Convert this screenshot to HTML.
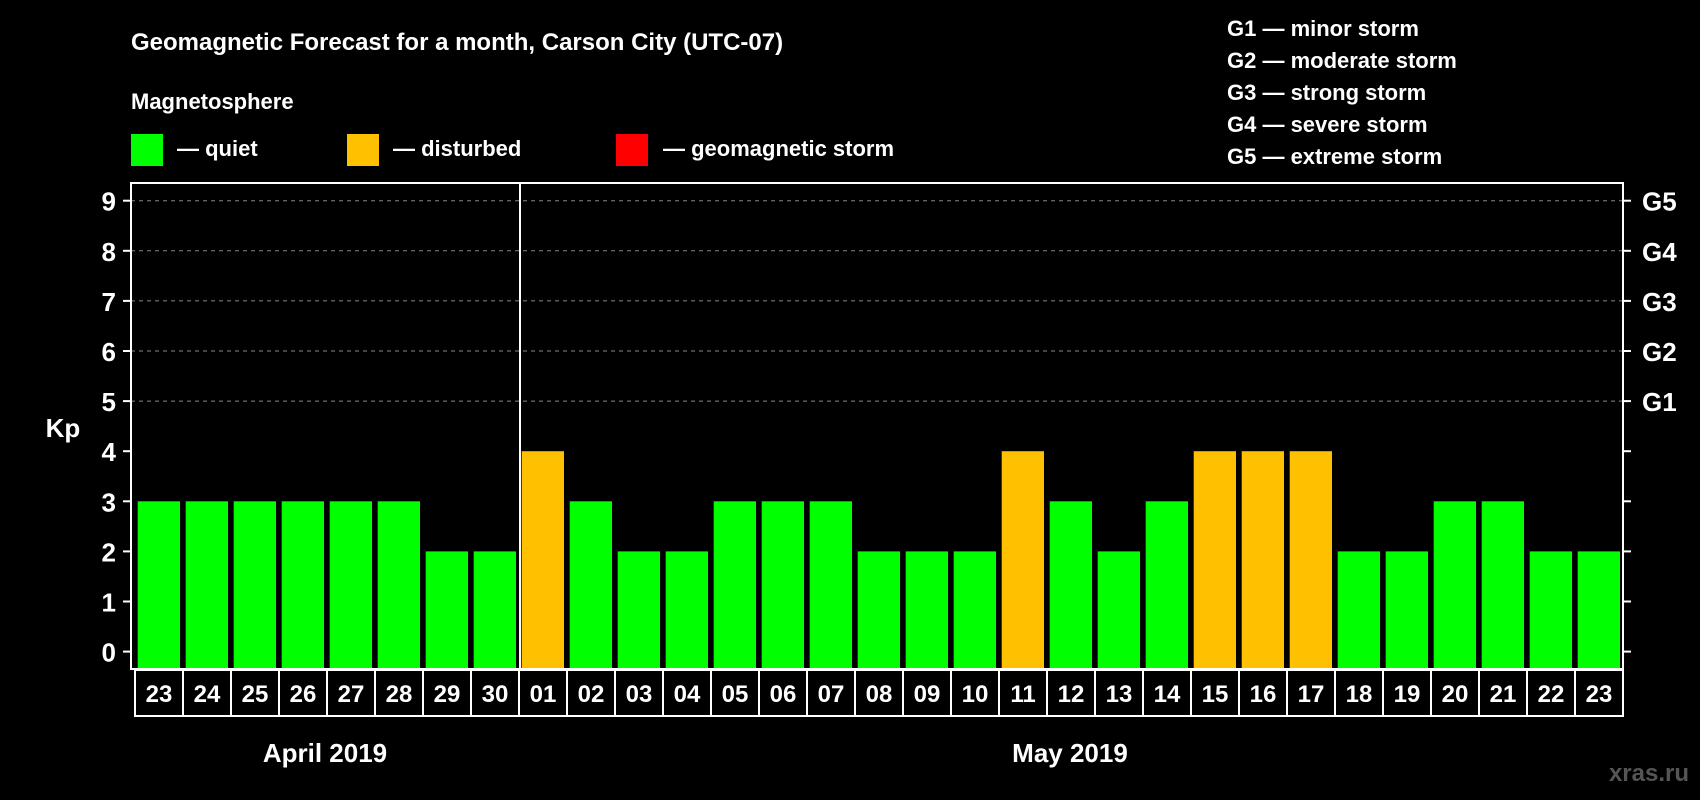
<!DOCTYPE html>
<html><head><meta charset="utf-8"><style>
body{margin:0;background:#000;}
svg{display:block;font-family:"Liberation Sans",sans-serif;font-weight:bold;}
</style></head><body>
<svg id="chart" width="1700" height="800">
<rect width="1700" height="800" fill="#000"/>
<text x="131" y="50" fill="#fff" font-size="24">Geomagnetic Forecast for a month, Carson City (UTC-07)</text>
<text x="131" y="109" fill="#fff" font-size="22">Magnetosphere</text>
<g><rect x="131" y="134" width="32" height="32" fill="#00ff00"/><text x="177" y="156" fill="#fff" font-size="22">— quiet</text></g>
<g><rect x="347" y="134" width="32" height="32" fill="#ffc000"/><text x="393" y="156" fill="#fff" font-size="22">— disturbed</text></g>
<g><rect x="616" y="134" width="32" height="32" fill="#ff0000"/><text x="663" y="156" fill="#fff" font-size="22">— geomagnetic storm</text></g>
<g fill="#fff" font-size="22">
<text x="1227" y="36">G1 — minor storm</text>
<text x="1227" y="68">G2 — moderate storm</text>
<text x="1227" y="100">G3 — strong storm</text>
<text x="1227" y="132">G4 — severe storm</text>
<text x="1227" y="164">G5 — extreme storm</text>
</g>
<text x="63" y="437" fill="#fff" font-size="26" text-anchor="middle">Kp</text>
<g id="grid"></g><g id="bars"></g><g id="axes"></g><g id="dates"></g>
<text x="325" y="762" fill="#fff" font-size="26" text-anchor="middle">April 2019</text>
<text x="1070" y="762" fill="#fff" font-size="26" text-anchor="middle">May 2019</text>
<text x="1689" y="781" fill="#555" font-size="24" text-anchor="end">xras.ru</text>
</svg>
<script>
const days=["23","24","25","26","27","28","29","30","01","02","03","04","05","06","07","08","09","10","11","12","13","14","15","16","17","18","19","20","21","22","23"];
const kp=[3,3,3,3,3,3,2,2,4,3,2,2,3,3,3,2,2,2,4,3,2,3,4,4,4,2,2,3,3,2,2];
const yTicks=[0,1,2,3,4,5,6,7,8,9];
const gLabels=["G1","G2","G3","G4","G5"];
const NS="http://www.w3.org/2000/svg";
const L=131,R=1623,T=183,B=669,X0=135,P=48;
const y=v=>651.6-v*50.1;
const x=i=>X0+i*P;
function mk(tag,attrs,parent,txt){const e=document.createElementNS(NS,tag);for(const k in attrs)e.setAttribute(k,attrs[k]);if(txt!==undefined)e.textContent=txt;document.getElementById(parent).appendChild(e);return e;}
yTicks.forEach(v=>{
 if(v>=5){const g=mk('line',{x1:L,x2:R,y1:y(v),y2:y(v),stroke:'#888','stroke-dasharray':'4 4','stroke-width':1},'grid');
 
 }
 const t1=mk('line',{x1:L-8,x2:L,y1:y(v),y2:y(v),stroke:'#fff','stroke-width':2},'axes');
 
 
 const t2=mk('line',{x1:R,x2:R+8,y1:y(v),y2:y(v),stroke:'#fff','stroke-width':2},'axes');
 
 
 const lb=mk('text',{x:116,y:y(v)+10,fill:'#fff','font-size':26,'text-anchor':'end'},'axes',String(v));
 
 
});
gLabels.forEach((g,i)=>{
 const lb=mk('text',{x:1642,y:y(5+i)+10,fill:'#fff','font-size':26},'axes',g);
 
 
});
kp.forEach((v,i)=>{
 const b=mk('rect',{x:x(i)+2.7,y:y(v),width:42.3,height:B-y(v),fill:v>=5?'#ff0000':(v>=4?'#ffc000':'#00ff00')},'bars');
 
 
});
const fr=mk('rect',{x:L,y:T,width:R-L,height:B-T,fill:'none',stroke:'#fff','stroke-width':2},'axes');


const mi=days.indexOf("01");
const dv=mk('line',{x1:x(mi)+1,x2:x(mi)+1,y1:T,y2:B,stroke:'#fff','stroke-width':2},'axes');


days.forEach((d,i)=>{
 const r=mk('rect',{x:x(i),y:670,width:P,height:46,fill:'none',stroke:'#fff','stroke-width':2},'dates');
 
 
 const t=mk('text',{x:x(i)+P/2,y:702,fill:'#fff','font-size':24,'text-anchor':'middle'},'dates',d);
 
 
});
</script>
</body></html>
